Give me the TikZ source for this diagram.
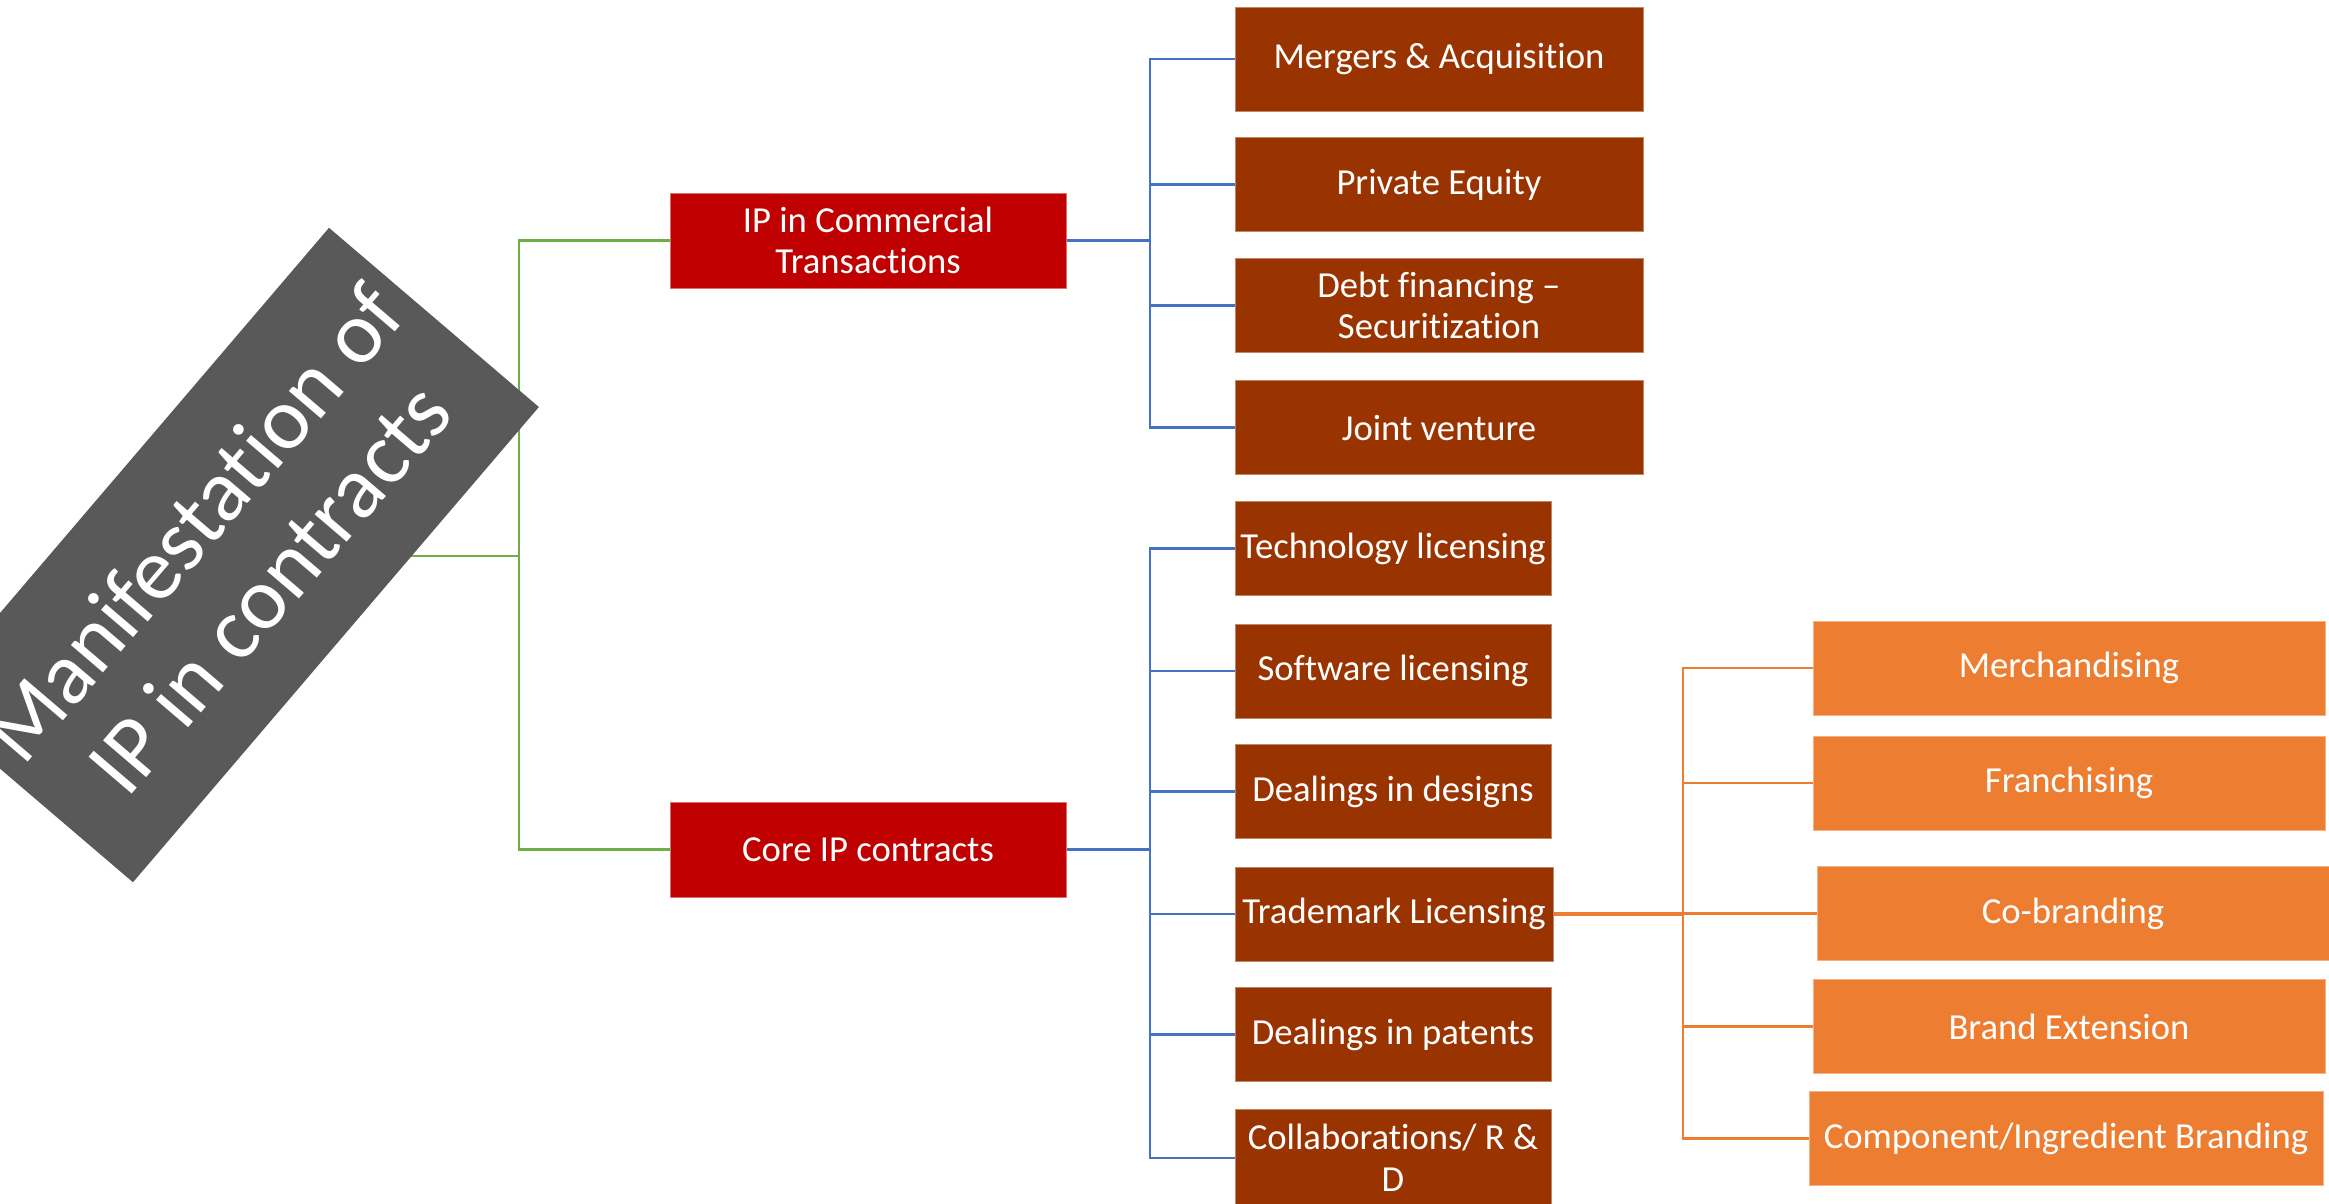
\documentclass[tikz,border=0pt]{standalone}
\usepackage{fontspec}
\setmainfont{Carlito}[Ligatures={TeX,NoCommon,NoContextual,NoRequired}]
\usetikzlibrary{backgrounds}

\definecolor{rootgray}{HTML}{595959}
\definecolor{ipred}{HTML}{C00000}
\definecolor{ipbrown}{HTML}{993300}
\definecolor{iporange}{HTML}{ED7D31}
\definecolor{lineblue}{HTML}{4472C4}
\definecolor{linegreen}{HTML}{70AD47}

\tikzset{every picture/.style={line width=0.75pt},
  box/.style={rectangle, inner sep=1pt, text=white, align=center,
    font=\fontsize{11}{12.5}\selectfont, line width=0.3pt},
  rootbox/.style={rectangle, inner sep=0pt, fill=rootgray, text=white, align=center,
    rotate=49.5, minimum width=187.5pt, minimum height=82.8pt,
    font=\fontsize{26.5}{30}\selectfont},
  redbox/.style={box, fill=ipred, draw=ipred!55!white, minimum width=118.8pt, minimum height=28.5pt},
  brownbox/.style={box, fill=ipbrown, draw=ipbrown!60!white, minimum height=28.2pt},
  topw/.style={minimum width=122.4pt},
  lowerw/.style={minimum width=94.8pt},
  orangebox/.style={box, fill=iporange, draw=iporange!60!white, minimum width=153.6pt, minimum height=28.2pt},
  greenline/.style={draw=linegreen, line width=0.75pt},
  blueline/.style={draw=lineblue, line width=0.75pt},
  orangeline/.style={draw=iporange, line width=0.75pt}
}

\begin{document}
\begin{tikzpicture}[x=0.3pt,y=0.3pt,yscale=-1,xscale=1]
        \useasboundingbox (0,0) rectangle (2329,1203);
        \clip (0,0) rectangle (2329,1203);

        %Shape: Rotated title box
        \node [rootbox] (root) at (231,555) {Manifestation of\\IP in contracts};

        % Red boxes
        \node [redbox] (comm) at (868,240.5) {IP in Commercial\\Transactions};
        \node [redbox] (core) at (868,849.5) {Core IP contracts};

        % Brown boxes, commercial transactions
        \node [brownbox, topw, minimum height=31.2pt] (ma) at (1439,59) {Mergers \& Acquisition};
        \node [brownbox, topw] (pe) at (1439,184.5) {Private Equity};
        \node [brownbox, topw] (debt) at (1439,305.5) {Debt financing –\\Securitization};
        \node [brownbox, topw] (jv) at (1439,427.5) {Joint venture};

        % Brown boxes, core contracts
        \node [brownbox, lowerw] (tech) at (1393,548.5) {Technology licensing};
        \node [brownbox, lowerw] (soft) at (1393,671) {Software licensing};
        \node [brownbox, lowerw] (des) at (1393,791.5) {Dealings in designs};
        \node [brownbox, lowerw, minimum width=95.4pt] (tm) at (1394,914) {Trademark Licensing};
        \node [brownbox, lowerw] (pat) at (1393,1034.5) {Dealings in patents};
        \node [brownbox, lowerw, minimum height=29.4pt] (col) at (1393,1158) {Collaborations/ R \&\\D};

        % Orange boxes, trademark licensing
        \node [orangebox] (merch) at (2069,668) {Merchandising};
        \node [orangebox] (fran) at (2069,783) {Franchising};
        \node [orangebox] (cob) at (2073,913.5) {Co-branding};
        \node [orangebox] (bext) at (2069,1026.5) {Brand Extension};
        \node [orangebox, minimum width=154.2pt] (comp) at (2066,1138.5) {Component/Ingredient Branding};

        % Junctions
        \coordinate (jg) at (519,556);
        \coordinate (jc) at (1150,240.5);
        \coordinate (jk) at (1150,849.5);
        \coordinate (jt) at (1683,914);

        %Straight Lines: connectors
        \begin{scope}[on background layer]
        \draw [greenline] (jg -| root.center) -- (jg);
        \draw [greenline] (comm.west) -| (jg) |- (core.west);

        \draw [blueline, line width=1.1pt] (comm.east) -- (jc);
        \foreach \n in {ma,pe,debt,jv}
          \draw [blueline] (jc) |- (\n.west);

        \draw [blueline, line width=1.1pt] (core.east) -- (jk);
        \foreach \n in {tech,soft,des,tm,pat,col}
          \draw [blueline] (jk) |- (\n.west);

        \draw [orangeline, line width=1pt] (tm.east) -- (jt);
        \foreach \n in {merch,fran,cob,bext,comp}
          \draw [orangeline] (jt) |- (\n.west);
        \end{scope}

\end{tikzpicture}
\end{document}
